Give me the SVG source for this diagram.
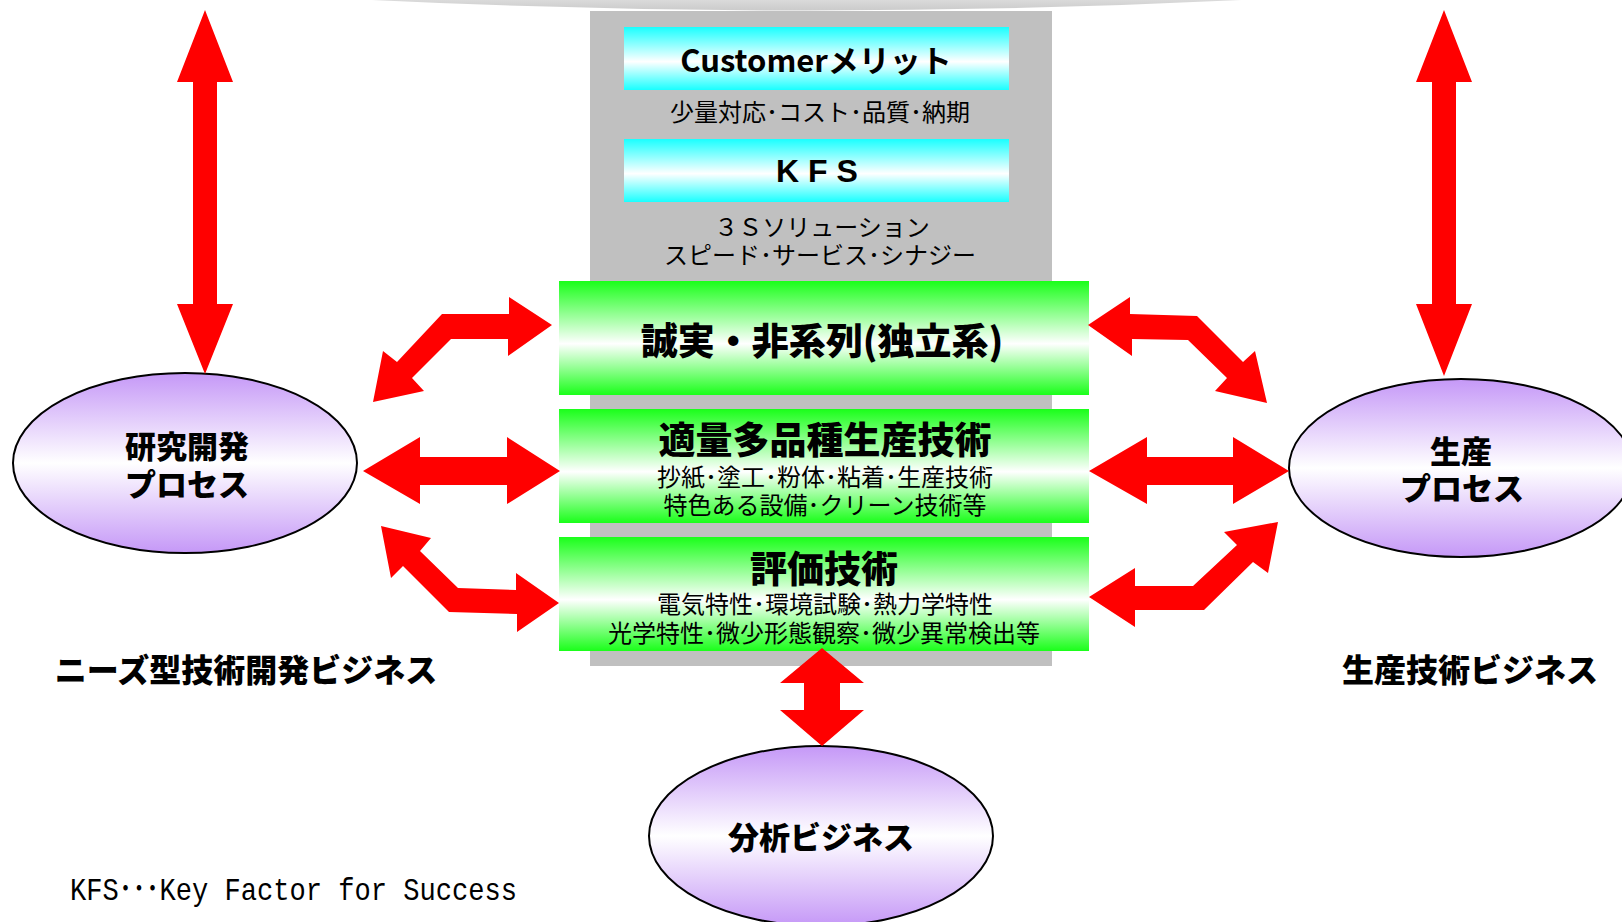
<svg xmlns="http://www.w3.org/2000/svg" width="1622" height="922" viewBox="0 0 1622 922">
<defs>
<linearGradient id="gCyan" x1="0" y1="0" x2="0" y2="1">
<stop offset="0" stop-color="#1affff"/><stop offset="0.55" stop-color="#ffffff"/><stop offset="1" stop-color="#1affff"/>
</linearGradient>
<linearGradient id="gGreen" x1="0" y1="0" x2="0" y2="1">
<stop offset="0" stop-color="#1aff1a"/><stop offset="0.55" stop-color="#ffffff"/><stop offset="1" stop-color="#1aff1a"/>
</linearGradient>
<linearGradient id="gPurple" x1="0" y1="0" x2="0" y2="1">
<stop offset="0" stop-color="#c598f7"/><stop offset="0.5" stop-color="#ffffff"/><stop offset="1" stop-color="#c598f7"/>
</linearGradient>
<linearGradient id="gTop" x1="0" y1="0" x2="0" y2="1">
<stop offset="0" stop-color="#dadada"/><stop offset="1" stop-color="#cbcbcb"/>
</linearGradient>
<style>
.jp{font-family:'Noto Sans CJK JP','Noto Sans CJK SC',sans-serif;fill:#000;text-anchor:middle;dominant-baseline:central}
.sub{font-size:24px;font-weight:400}
.head{font-size:37px;font-weight:900}
.node{font-size:31px;font-weight:900}
.lbl{font-size:32px;font-weight:900}
.cy{font-size:31px;font-weight:700}
.arrow{fill:#ff0000;stroke:none}
.ell{fill:url(#gPurple);stroke:#000;stroke-width:2}
</style>
</defs>
<rect width="1622" height="922" fill="#ffffff"/>
<path d="M372,0 Q806,21 1241,0 Z" fill="url(#gTop)"/>
<g id="panel">
<rect x="590" y="11" width="462" height="655" fill="#c0c0c0"/>
</g>
<g id="customer">
<rect x="624" y="27" width="385" height="63" fill="url(#gCyan)"/>
<text class="jp cy" x="816" y="58">Customerメリット</text>
<text class="jp sub" x="820" y="110">少量対応･コスト･品質･納期</text>
</g>
<g id="kfs">
<rect x="624" y="139" width="385" height="63" fill="url(#gCyan)"/>
<text x="817" y="182" font-family="'Liberation Sans',sans-serif" font-size="32" font-weight="700" text-anchor="middle">K F S</text>
<text class="jp sub"><tspan x="822" y="225">３Ｓソリューション</tspan><tspan x="820" y="253">スピード･サービス･シナジー</tspan></text>
</g>
<g id="integrity">
<rect x="559" y="281" width="530" height="114" fill="url(#gGreen)"/>
<text class="jp head" x="822" y="339">誠実・非系列(独立系)</text>
</g>
<g id="production-tech">
<rect x="559" y="409" width="530" height="114" fill="url(#gGreen)"/>
<text class="jp"><tspan class="head" x="825" y="438">適量多品種生産技術</tspan><tspan class="sub" x="825" y="475">抄紙･塗工･粉体･粘着･生産技術</tspan><tspan class="sub" x="825" y="503">特色ある設備･クリーン技術等</tspan></text>
</g>
<g id="evaluation">
<rect x="559" y="537" width="530" height="114" fill="url(#gGreen)"/>
<text class="jp"><tspan class="head" x="824" y="567">評価技術</tspan><tspan class="sub" x="825" y="602">電気特性･環境試験･熱力学特性</tspan><tspan class="sub" x="824" y="631">光学特性･微少形態観察･微少異常検出等</tspan></text>
</g>
<g id="rd-process">
<ellipse class="ell" cx="185" cy="463" rx="172" ry="90"/>
<text class="jp node"><tspan x="187" y="444">研究開発</tspan><tspan x="187" y="482">プロセス</tspan></text>
</g>
<g id="prod-process">
<ellipse class="ell" cx="1461" cy="468" rx="172" ry="89"/>
<text class="jp node"><tspan x="1461" y="449">生産</tspan><tspan x="1462" y="486">プロセス</tspan></text>
</g>
<g id="analysis">
<ellipse class="ell" cx="821" cy="836" rx="172" ry="90"/>
<text class="jp node" x="821" y="835">分析ビジネス</text>
</g>
<g id="labels">
<text class="jp lbl" x="246" y="668">ニーズ型技術開発ビジネス</text>
<text class="jp lbl" x="1470" y="668">生産技術ビジネス</text>
<text x="70" y="900" font-family="'Liberation Mono','Noto Sans CJK JP',monospace" font-size="32" textLength="447" lengthAdjust="spacingAndGlyphs">KFS･･･Key Factor for Success</text>
</g>
<g id="connectors">
<polygon class="arrow" points="205,10 233,82 217,82 217,304 233,304 205,374 177,304 193,304 193,82 177,82"/>
<polygon class="arrow" points="1444,10 1472,82 1456,82 1456,304 1472,304 1444,376 1416,304 1432,304 1432,82 1416,82"/>
<polygon class="arrow" points="822,648 864,683 840,683 840,710 864,710 822,746 780,710 804,710 804,683 780,683"/>
<polygon class="arrow" points="363,471 420,437 420,457 507,457 507,437 560,471 507,504 507,485 420,485 420,504"/>
<polygon class="arrow" points="1089,471 1147,437 1147,457 1233,457 1233,437 1289,471 1233,504 1233,485 1147,485 1147,504"/>
<polygon class="arrow" points="552,325 508,356 508,339 451,339 412,378 424,391 373,402 383,351 397,362 442,314 509,314 509,297"/>
<polygon class="arrow" points="381,526 431,538 420,551 458,588 516,590 516,573 559,603 517,632 517,614 449,612 403,566 391,578"/>
<polygon class="arrow" points="1088,325 1130,297 1130,314 1197,316 1243,362 1255,351 1267,403 1215,391 1227,378 1188,340 1132,339 1132,356"/>
<polygon class="arrow" points="1089,597 1135,568 1135,586 1193,586 1237,545 1224,532 1278,522 1268,573 1253,562 1204,610 1135,610 1135,627"/>
</g>
</svg>
